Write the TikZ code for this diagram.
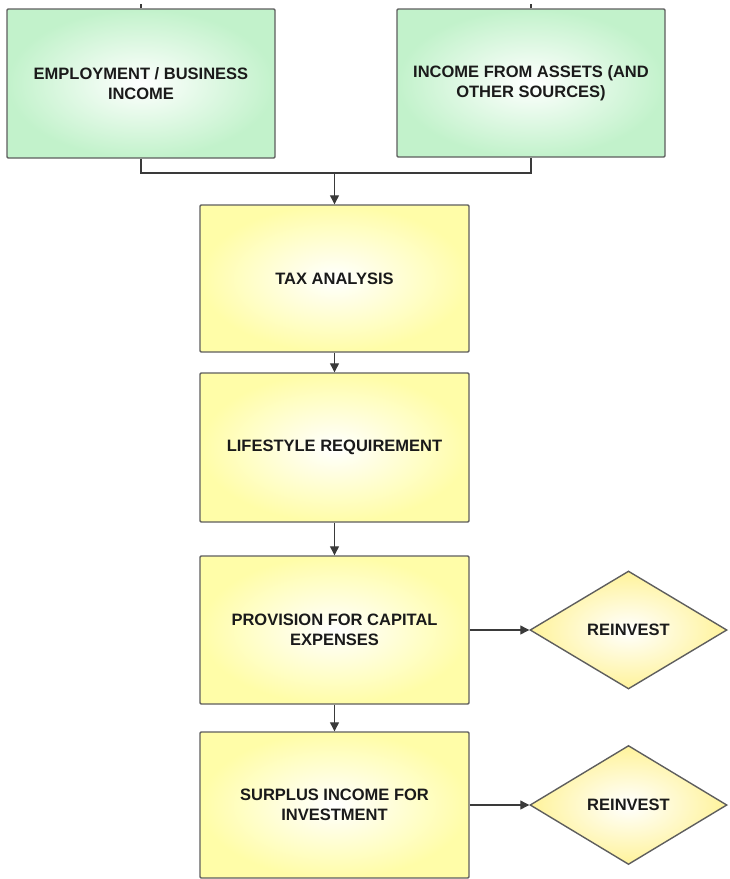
\documentclass[tikz,border=0pt]{standalone}
\usepackage{fontspec}
\setmainfont{Liberation Sans}
\usetikzlibrary{arrows.meta,shapes.geometric}

\definecolor{boxline}{HTML}{5E5E5E}
\definecolor{wireline}{HTML}{3A3A3A}
\definecolor{mint}{HTML}{C2F2CB}
\definecolor{lemon}{HTML}{FFFDA8}
\definecolor{labelink}{HTML}{1A1A1A}

\tikzset{
  base/.style={draw=boxline, line width=1.4pt, align=center, inner sep=0pt,
    text=labelink, font=\fontsize{16.5}{20.5}\selectfont\bfseries},
  greenbox/.style={base, rectangle, rounded corners=1.2pt, inner color=white, outer color=mint},
  yellowbox/.style={base, rectangle, rounded corners=1.2pt, inner color=white, outer color=lemon},
  choice/.style={base, diamond, inner color=white, outer color=lemon!92!orange},
  flow/.style={draw=wireline, line width=1.2pt, -{Triangle[length=9pt,width=9pt]}},
  wire/.style={draw=wireline, line width=1.2pt}
}

\begin{document}
\begin{tikzpicture}[x=1pt,y=-1pt]
\useasboundingbox (0,0) rectangle (730,879);

% income sources
\node[greenbox, minimum width=268pt, minimum height=149pt] (emp) at (141,83.5)
  {EMPLOYMENT / BUSINESS\\INCOME};
\node[greenbox, minimum width=268pt, minimum height=148pt] (assets) at (531,83)
  {INCOME FROM ASSETS (AND\\OTHER SOURCES)};

% main chain
\node[yellowbox, minimum width=269pt, minimum height=147pt] (tax) at (334.5,278.5)
  {TAX ANALYSIS};
\node[yellowbox, minimum width=269pt, minimum height=149pt] (life) at (334.5,447.5)
  {LIFESTYLE REQUIREMENT};
\node[yellowbox, minimum width=269pt, minimum height=148pt] (prov) at (334.5,630)
  {PROVISION FOR CAPITAL\\EXPENSES};
\node[yellowbox, minimum width=269pt, minimum height=146pt] (surp) at (334.5,805)
  {SURPLUS INCOME FOR\\INVESTMENT};

% reinvestment decisions
\node[choice, minimum width=197pt, minimum height=118pt] (rein1) at (628.5,630) {REINVEST};
\node[choice, minimum width=197pt, minimum height=119pt] (rein2) at (628.5,805) {REINVEST};

% short stubs above the source boxes
\draw[wire] (emp.north) -- ++(0,-4);
\draw[wire] (assets.north) -- ++(0,-4);

% merge of the two sources
\coordinate (merge) at (334.5,173);
\draw[wire] (emp.south) |- (merge) -| (assets.south);
\draw[flow] (merge) -- (tax.north);

\draw[flow] (tax.south) -- (life.north);
\draw[flow] (life.south) -- (prov.north);
\draw[flow] (prov.south) -- (surp.north);

\draw[flow] (prov.east) -- (rein1.west);
\draw[flow] (surp.east) -- (rein2.west);
\end{tikzpicture}
\end{document}
